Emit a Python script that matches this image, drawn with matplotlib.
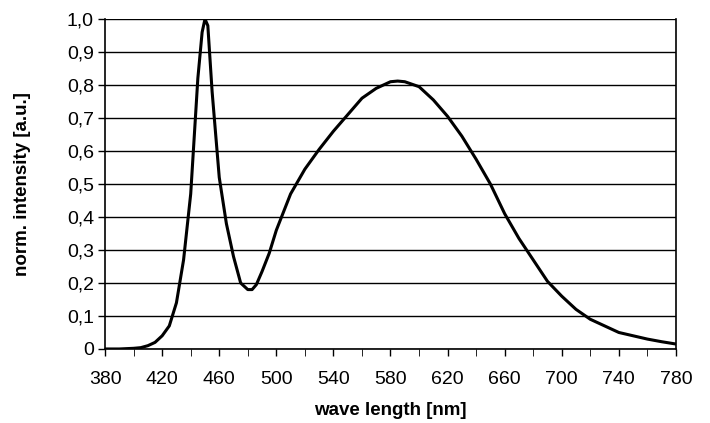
import matplotlib.pyplot as plt
from matplotlib.ticker import FixedLocator, MultipleLocator, FuncFormatter

plt.rcParams["font.family"] = ["Liberation Sans", "DejaVu Sans"]

wavelength = [380, 390, 400, 405, 410, 415, 420, 425, 430, 435, 440, 445, 448,
              450, 452, 455, 460, 465, 470, 475, 480, 483, 486, 490, 495, 500,
              510, 520, 530, 540, 550, 560, 570, 580, 585, 590, 600, 610, 620,
              630, 640, 650, 660, 670, 680, 690, 700, 710, 720, 730, 740, 750,
              760, 770, 780]
intensity = [0.0, 0.0, 0.002, 0.004, 0.01, 0.02, 0.04, 0.07, 0.14, 0.27, 0.47,
             0.82, 0.96, 1.0, 0.98, 0.78, 0.52, 0.38, 0.28, 0.2, 0.18, 0.18,
             0.195, 0.235, 0.29, 0.36, 0.47, 0.545, 0.605, 0.66, 0.71, 0.76,
             0.79, 0.81, 0.812, 0.81, 0.795, 0.755, 0.705, 0.645, 0.575, 0.5,
             0.41, 0.335, 0.27, 0.205, 0.16, 0.12, 0.09, 0.07, 0.05, 0.04, 0.03,
             0.022, 0.015]
x_ticks = list(range(380, 781, 40))

fig = plt.figure(figsize=(7.1, 4.23), dpi=100)
ax = fig.add_axes([0.148, 0.175, 0.804, 0.780])

ax.plot(wavelength, intensity, color="black", lw=2.2, solid_joinstyle="round")

ax.set_xlim(380, 780)
ax.set_ylim(0, 1.0)
ax.xaxis.set_major_locator(FixedLocator(x_ticks))
ax.xaxis.set_minor_locator(FixedLocator(list(range(380, 781, 20))))
ax.yaxis.set_major_locator(MultipleLocator(0.1))
ax.yaxis.set_major_formatter(FuncFormatter(
    lambda v, p: "0" if abs(v) < 1e-9 else f"{v:.1f}".replace(".", ",")))

ax.grid(axis="y", color="black", lw=1.0)
ax.set_axisbelow(True)
ax.spines["top"].set_visible(False)
for s in ["left", "right", "bottom"]:
    ax.spines[s].set_linewidth(1.2)

ax.tick_params(axis="both", labelsize=14, direction="out", width=1, color="black")
ax.tick_params(axis="x", which="major", length=5, pad=11)
ax.tick_params(axis="x", which="minor", length=5)
ax.tick_params(axis="y", length=5, pad=3)

ax.set_xlabel("wave length [nm]", fontsize=13.5, fontweight="bold", labelpad=10)
ax.set_ylabel("norm. intensity [a.u.]", fontsize=13.5, fontweight="bold", labelpad=26)

fig.savefig("out.png", dpi=100)
